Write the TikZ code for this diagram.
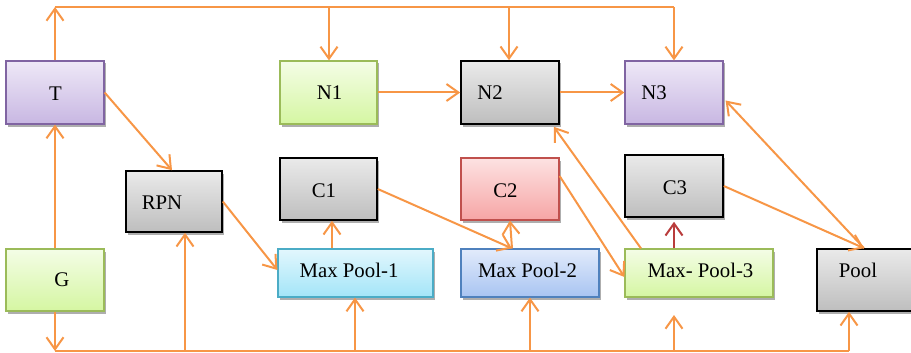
\documentclass[tikz,border=0pt]{standalone}
\usepackage{fontspec}
\setmainfont{Liberation Serif}
\usetikzlibrary{arrows.meta,shadows,calc}

\definecolor{wire}{HTML}{F79646}
\definecolor{wirered}{RGB}{185,60,60}
% box palettes: edge / top / bottom
\definecolor{purE}{HTML}{8064A2}\definecolor{purT}{HTML}{EEE8F7}\definecolor{purB}{HTML}{C8B7E2}
\definecolor{grnE}{HTML}{9BBB59}\definecolor{grnT}{HTML}{F4FDE6}\definecolor{grnB}{HTML}{D5F6A2}
\definecolor{gryT}{HTML}{EAEAEA}\definecolor{gryB}{HTML}{BEBEBE}
\definecolor{redE}{HTML}{C0504D}\definecolor{redT}{HTML}{FDE2E2}\definecolor{redB}{HTML}{F6A5A5}
\definecolor{cyaE}{HTML}{4BACC6}\definecolor{cyaT}{HTML}{E2F7FD}\definecolor{cyaB}{HTML}{A3E5F8}
\definecolor{bluE}{HTML}{4F81BD}\definecolor{bluT}{HTML}{E2EBFB}\definecolor{bluB}{HTML}{A8C4F2}

\tikzset{
  box/.style={draw, inner sep=0pt, line width=1.2pt,
    drop shadow={shadow xshift=1.5pt, shadow yshift=-2.5pt, fill=black!45, opacity=0.7}},
  purbox/.style={box, draw=purE, top color=purT, bottom color=purB},
  grnbox/.style={box, draw=grnE, top color=grnT, bottom color=grnB},
  grybox/.style={box, draw=black, line width=1.6pt, top color=gryT, bottom color=gryB},
  redbox/.style={box, draw=redE, top color=redT, bottom color=redB},
  cyabox/.style={box, draw=cyaE, top color=cyaT, bottom color=cyaB},
  blubox/.style={box, draw=bluE, top color=bluT, bottom color=bluB},
  lbl/.style={inner sep=0pt, font=\fontsize{20.8}{24}\selectfont},
  wline/.style={draw=wire, line width=2pt},
  arr/.style={wline, -{Straight Barb[length=12pt,width=17pt]}},
  redarr/.style={draw=wirered, line width=2pt, -{Straight Barb[length=12pt,width=17pt]}},
}

\begin{document}
\begin{tikzpicture}[x=1pt,y=-1pt]
\useasboundingbox (0,0) rectangle (911,353);

% boxes
\node[purbox, minimum width=98pt, minimum height=63pt] (T)   at (55,92.5) {};
\node[grnbox, minimum width=97pt, minimum height=63pt] (N1)  at (328.5,92.5) {};
\node[grybox, minimum width=98pt, minimum height=63pt] (N2)  at (510,92.5) {};
\node[purbox, minimum width=98pt, minimum height=63pt] (N3)  at (674,92.5) {};
\node[grybox, minimum width=96pt, minimum height=61pt] (RPN) at (174,201.5) {};
\node[grybox, minimum width=97pt, minimum height=62pt] (C1)  at (328.5,189) {};
\node[redbox, minimum width=98pt, minimum height=62pt] (C2)  at (510,189) {};
\node[grybox, minimum width=98pt, minimum height=62pt] (C3)  at (674,186) {};
\node[cyabox, minimum width=155pt, minimum height=48pt] (MP1) at (355.5,273) {};
\node[blubox, minimum width=138pt, minimum height=48pt] (MP2) at (530,273) {};
\node[grnbox, minimum width=148pt, minimum height=48pt] (MP3) at (699,273) {};
\node[grnbox, minimum width=98pt, minimum height=62pt] (G)   at (55,280) {};
\node[grybox, minimum width=98pt, minimum height=62pt] (Pool) at (866,280) {};

% labels
\node[lbl] (Tt)    at (55.5,93.5) {T};
\node[lbl] (N1t)   at (329.5,93) {N1};
\node[lbl] (N2t)   at (490,93) {N2};
\node[lbl] (N3t)   at (654,93) {N3};
\node[lbl] (RPNt)  at (162,202.5) {RPN};
\node[lbl] (C1t)   at (324,190.5) {C1};
\node[lbl] (C2t)   at (505.5,190.5) {C2};
\node[lbl] (C3t)   at (675,187.5) {C3};
\node[lbl] (MP1t)  at (349,270) {Max Pool-1};
\node[lbl] (MP2t)  at (527.5,270) {Max Pool-2};
\node[lbl] (MP3t)  at (700.5,270) {Max- Pool-3};
\node[lbl] (Gt)    at (62,280) {G};
\node[lbl] (Poolt) at (858,270) {Pool};

% top distribution bus
\coordinate (topL) at (55,7);
\coordinate (topR) at (674,7);
\coordinate (top1) at (329,7);
\coordinate (top2) at (509,7);
\draw[wline] (topL) -- (topR);
\draw[arr] (T.north) -- (topL);
\draw[arr] (top1) -- (top1 |- N1.north);
\draw[arr] (top2) -- (top2 |- N2.north);
\draw[arr] (topR) -- (N3.north);

% bottom distribution bus
\coordinate (botL) at (55,351);
\coordinate (botR) at (849,351);
\coordinate (bot1) at (185,351);
\coordinate (bot2) at (355,351);
\coordinate (bot3) at (530,351);
\coordinate (bot4) at (674,351);
\coordinate (bot4e) at (674,315);
\draw[wline] (botL) -- (botR);
\draw[arr] (G.south) -- (botL);
\draw[arr] (bot1) -- (bot1 |- RPN.south);
\draw[arr] (bot2) -- (bot2 |- MP1.south);
\draw[arr] (bot3) -- (MP2.south);
\draw[arr] (bot4) -- (bot4e);
\draw[arr] (botR) -- (botR |- Pool.south);

% main flow
\draw[arr] (G.north) -- (T.south);
\draw[arr] (T.east) -- ([xshift=-2pt]RPN.north);
\draw[arr] (RPN.east) -- ([yshift=3pt]MP1.west);
\draw[arr] (N1.east) -- (N2.west);
\draw[arr] (N2.east) -- (N3.west);
\draw[arr] ([xshift=3.5pt]C1.south |- MP1.north) -- ([xshift=3.5pt]C1.south);
\draw[arr] (C1.east) -- ([xshift=-18pt]MP2.north);
\draw[arr] ([xshift=-18pt]MP2.north) -- (C2.south);
\draw[arr] ([yshift=13pt]C2.east) -- ([yshift=-4pt]MP3.west);
\draw[arr] ([xshift=-58pt]MP3.north) -- ([xshift=-6pt,yshift=-2pt]N2.south east);
\draw[redarr, shorten >=4pt] (C3.south |- MP3.north) -- (C3.south);
\draw[arr] (C3.east) -- ([xshift=-2pt]Pool.north);
\draw[arr] ([xshift=-2pt]Pool.north) -- ([xshift=2pt,yshift=-8pt]N3.east);
\end{tikzpicture}
\end{document}
